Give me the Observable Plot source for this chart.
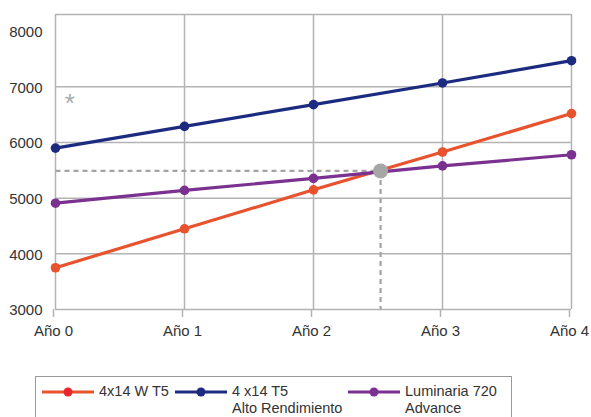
<!DOCTYPE html>
<html>
<head>
<meta charset="utf-8">
<script src="https://cdn.jsdelivr.net/npm/d3@7"></script>
<script src="https://cdn.jsdelivr.net/npm/@observablehq/plot@0.6"></script>
<style>
  html, body { margin: 0; padding: 0; background: #fff; }
  body { width: 591px; height: 417px; position: relative; overflow: hidden; font-family: "Liberation Sans", Arial, sans-serif; color: #333; }
  #chart { position: absolute; left: 0; top: 0; }
  #legend { position: absolute; left: 35px; top: 376px; width: 477px; height: 60px; border: 1px solid #9a9a9a; box-sizing: border-box; font-size: 14.5px; }
  .item { position: absolute; top: 6px; display: flex; align-items: flex-start; line-height: 17px; }
  .item svg { margin-right: 5px; }
</style>
</head>
<body>
<div id="chart"></div>
<div id="legend"></div>
<script>
const years = [0, 1, 2, 3, 4];
const yearLabels = ["Año 0", "Año 1", "Año 2", "Año 3", "Año 4"];
const seriesNames = ["4x14 W T5", "4 x14 T5\nAlto Rendimiento", "Luminaria 720\nAdvance"];
const seriesColors = ["#e8522d", "#1c2b7f", "#7b3190"];
const t5 = [3750, 4450, 5150, 5830, 6520];
const t5Alto = [5900, 6290, 6680, 7070, 7470];
const luminaria720 = [4910, 5140, 5355, 5580, 5780];
const yTicks = [3000, 4000, 5000, 6000, 7000, 8000];
const yGrid = [3000, 4000, 5000, 6000, 7000];
const yTop = 8300;
const crossX = [2.52];
const crossY = [5490];
const noteX = [0.11];
const noteY = [6800];

const seriesValues = [t5, t5Alto, luminaria720];
const data = seriesValues.flatMap((vals, s) => years.map((yr, i) => ({ year: yr, value: vals[i], series: s })));
const cross = crossX.map((x, i) => ({ x, y: crossY[i] }));

const gridColor = "#b3b3b3";
const dashColor = "#a3a3a3";

const chart = Plot.plot({
  width: 591,
  height: 345,
  marginLeft: 55,
  marginRight: 20,
  marginTop: 14,
  marginBottom: 36,
  style: { fontFamily: "'Liberation Sans', Arial, sans-serif", fontSize: "15px", color: "#333", background: "#fff" },
  x: { domain: [0, 4] },
  y: { domain: [3000, yTop] },
  marks: [
    Plot.ruleY(yGrid, { stroke: gridColor, strokeWidth: 1.5 }),
    Plot.ruleY([yTop], { stroke: gridColor, strokeWidth: 1.5 }),
    Plot.ruleX(years, { y1: 3000, y2: yTop, stroke: gridColor, strokeWidth: 1.5 }),
    Plot.axisX({ ticks: years, tickSize: 8, tickPadding: 8, stroke: gridColor, strokeWidth: 1.5, tickFormat: d => yearLabels[d], label: null, fill: "#333", dx: -2 }),
    Plot.axisY({ ticks: yTicks, tickSize: 0, tickPadding: 13, tickFormat: d => String(d), label: null, fill: "#333", dy: 1 }),
    Plot.link(cross, { x1: 0, y1: "y", x2: "x", y2: "y", stroke: dashColor, strokeWidth: 2.2, strokeDasharray: "5,4" }),
    Plot.link(cross, { x1: "x", y1: "y", x2: "x", y2: 3000, stroke: dashColor, strokeWidth: 2.2, strokeDasharray: "5,4" }),
    Plot.line(data, { x: "year", y: "value", z: "series", stroke: d => seriesColors[d.series], strokeWidth: 3.2 }),
    Plot.dot(data, { x: "year", y: "value", fill: d => seriesColors[d.series], r: 4.8 }),
    Plot.dot(cross, { x: "x", y: "y", fill: "#a6a6a6", r: 7.5 }),
    Plot.text(noteX.map((x, i) => ({ x, y: noteY[i] })), { x: "x", y: "y", text: d => "*", fill: "#aaaaaa", fontSize: 26, dy: 6 })
  ]
});
document.getElementById("chart").appendChild(chart);

const legend = document.getElementById("legend");
const itemLefts = [6, 139, 312];
seriesNames.forEach((name, i) => {
  const div = document.createElement("div");
  div.className = "item";
  div.style.left = itemLefts[i] + "px";
  div.innerHTML = `<svg width="52" height="18"><line x1="0" x2="52" y1="9" y2="9" stroke="${seriesColors[i]}" stroke-width="3.2"/><circle cx="26" cy="9" r="4.5" fill="${i === 0 ? '#e8262d' : seriesColors[i]}"/></svg><div>${name.replace("\n", "<br>")}</div>`;
  legend.appendChild(div);
});
</script>
</body>
</html>
